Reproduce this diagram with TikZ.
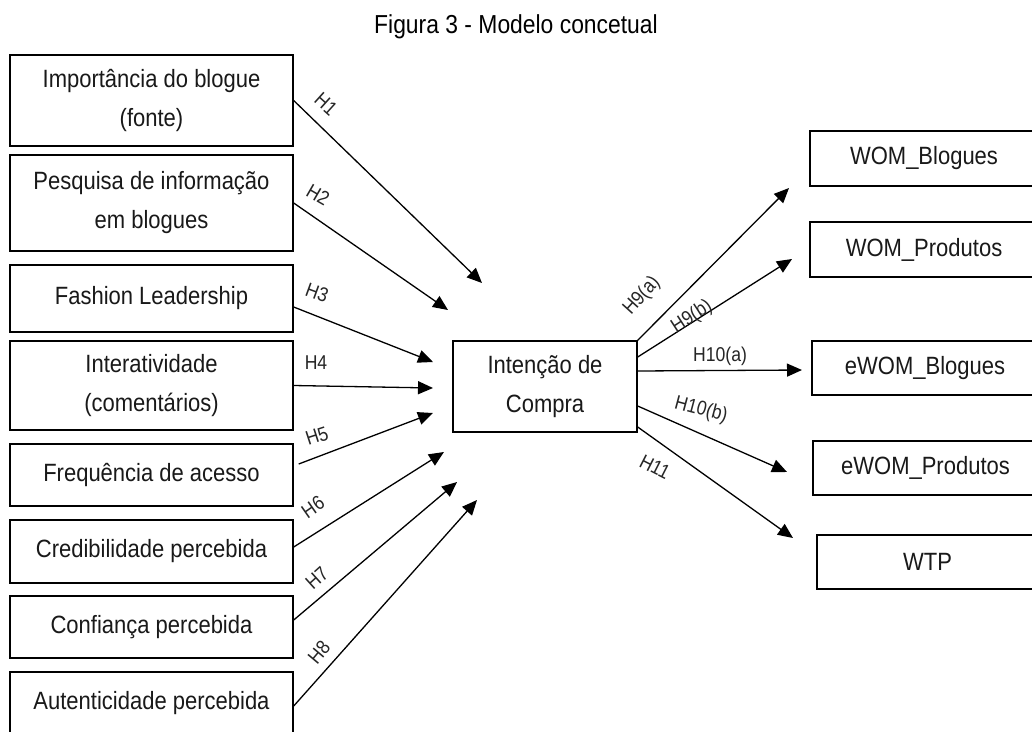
\documentclass[tikz,border=0pt]{standalone}
\usepackage{fontspec}
\setmainfont{Liberation Sans}[FakeStretch=0.88]
\usetikzlibrary{arrows.meta}
\begin{document}
\begin{tikzpicture}[x=1pt,y=-1pt,
  box/.style={draw=black, line width=1.4pt, rectangle, inner sep=0pt, align=center,
    font=\fontsize{25}{39}\selectfont, text=black!90},
  conn/.style={line width=1.3pt, -{Triangle[length=15pt,width=13pt]}},
  hlab/.style={font=\fontsize{20}{22}\selectfont, text=black!85, inner sep=0pt}]
\clip (0,0) rectangle (1032,731);
\fill[white] (0,0) rectangle (1032,731);
\node[font=\fontsize{26}{30}\selectfont] (title) at (516,27) {Figura 3 - Modelo concetual};
% left boxes
\node[box, minimum width=283pt, minimum height=91pt] (b1) at (151.5,100.5) {Importância do blogue\\(fonte)};
\node[box, minimum width=283pt, minimum height=96pt] (b2) at (151.5,203) {Pesquisa de informação\\em blogues};
\node[box, minimum width=283pt, minimum height=67pt] (b3) at (151.5,298.5) {Fashion Leadership};
\node[box, minimum width=283pt, minimum height=89pt] (b4) at (151.5,385.5) {Interatividade\\(comentários)};
\node[box, minimum width=283pt, minimum height=62pt] (b5) at (151.5,475) {Frequência de acesso};
\node[box, minimum width=283pt, minimum height=63pt] (b6) at (151.5,551.5) {Credibilidade percebida};
\node[box, minimum width=283pt, minimum height=62pt] (b7) at (151.5,627) {Confiança percebida};
\node[box, minimum width=283pt, minimum height=62pt] (b8) at (151.5,703) {Autenticidade percebida};
% centre
\node[box, minimum width=184pt, minimum height=91pt] (c) at (545,386.5) {Intenção de\\Compra};
% right boxes
\node[box, minimum width=228pt, minimum height=55pt] (r1) at (924,158.5) {WOM\_Blogues};
\node[box, minimum width=228pt, minimum height=55pt] (r2) at (924,249.5) {WOM\_Produtos};
\node[box, minimum width=226pt, minimum height=54pt] (r3) at (925,368) {eWOM\_Blogues};
\node[box, minimum width=225pt, minimum height=54pt] (r4) at (925.5,468) {eWOM\_Produtos};
\node[box, minimum width=221pt, minimum height=54pt] (r5) at (927.5,562) {WTP};
% arrow tips
\coordinate (t1) at (482,283);
\coordinate (t2) at (448,310);
\coordinate (t3) at (433,362);
\coordinate (t4) at (433,388);
\coordinate (t5) at (433,413);
\coordinate (t6) at (444,452);
\coordinate (t7) at (457,482);
\coordinate (t8) at (477,500);
\coordinate (u1) at (789,188);
\coordinate (u2) at (792,259);
\coordinate (u3) at (802,370);
\coordinate (u4) at (787,472);
\coordinate (u5) at (793,538);
% connectors
\draw[conn] (b1.east) -- (t1);
\draw[conn] (b2.east) -- (t2);
\draw[conn] ([yshift=-8.5pt]b3.east) -- (t3);
\draw[conn] (b4.east) -- (t4);
\draw[conn] ([xshift=5pt,yshift=11pt]b5.east) -- (t5);
\draw[conn] ([yshift=4.5pt]b6.east) -- (t6);
\draw[conn] ([yshift=7pt]b7.east) -- (t7);
\draw[conn] ([yshift=-3pt]b8.east) -- (t8);
\draw[conn] (c.north east) -- (u1);
\draw[conn] ([yshift=29.5pt]c.east) -- (u2);
\draw[conn] ([yshift=15.5pt]c.east) -- (u3);
\draw[conn] ([yshift=-19.5pt]c.east) -- (u4);
\draw[conn] ([yshift=-40.5pt]c.east) -- (u5);
% labels
\node[hlab, rotate=-42] (l1) at (326,104) {H1};
\node[hlab, rotate=-30] (l2) at (318,195) {H2};
\node[hlab, rotate=-20] (l3) at (317,293) {H3};
\node[hlab] (l4) at (316,363) {H4};
\node[hlab, rotate=18] (l5) at (317,436) {H5};
\node[hlab, rotate=35] (l6) at (313,507) {H6};
\node[hlab, rotate=42] (l7) at (317,578) {H7};
\node[hlab, rotate=50] (l8) at (319,652) {H8};
\node[hlab, rotate=48] (l9a) at (642,296) {H9(a)};
\node[hlab, rotate=33] (l9b) at (692,317) {H9(b)};
\node[hlab] (l10a) at (720,356) {H10(a)};
\node[hlab, rotate=-15] (l10b) at (701,410) {H10(b)};
\node[hlab, rotate=-27] (l11) at (655,467) {H11};
\end{tikzpicture}
\end{document}
